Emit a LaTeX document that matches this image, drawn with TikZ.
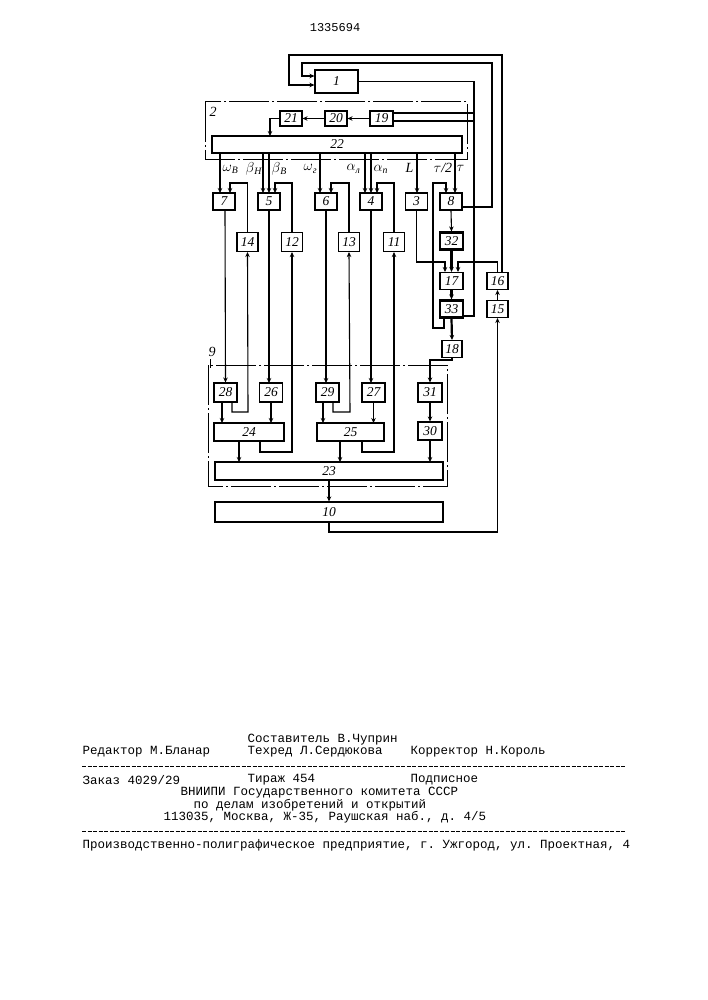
\documentclass[tikz,border=0pt]{standalone}
\usepackage{fontspec}
\setmainfont{Liberation Serif}
\setmonofont{Liberation Mono}
\usetikzlibrary{arrows.meta}
\begin{document}
\begin{tikzpicture}[x=1pt,y=-1pt,line width=1.1pt,
  >={Stealth[length=5pt,width=4.5pt]},
  blk/.style={draw,minimum width=#1,minimum height=17pt,inner sep=0pt,font=\itshape\fontsize{13.5}{13.5}\selectfont},
  blk/.default=22pt,
  tblk/.style={blk=#1,line width=2.2pt},
  tblk/.default=23pt,
  frm/.style={line width=1pt,dash pattern=on 40pt off 3pt on 2pt off 3pt},
  lbl/.style={font=\itshape\fontsize{14}{14}\selectfont,inner sep=0pt},
  txt/.style={font=\ttfamily\fontsize{12.5}{12.5}\selectfont,anchor=west,inner sep=0pt},
  thk/.style={line width=2.2pt}]
\useasboundingbox (0,0) rectangle (707,1000);
\node[font=\ttfamily\fontsize{12}{12}\selectfont] (title) at (335,28) {1335694};
% frames
\draw[frm] (205,102) rectangle (467,160);
\node[lbl] (l2) at (213,112) {2};
\draw[frm] (208,365) rectangle (447,486);
\node[lbl] (l9) at (212,352) {9};
\draw[line width=0.8pt] (210,359) -- (210,368);
% blocks
\node[blk=43pt,minimum height=23pt] (b1) at (336.5,81.5) {1};
\node[blk=23pt,minimum height=15pt] (b19) at (381.5,118.5) {19};
\node[blk,minimum height=15pt] (b20) at (336,118.5) {20};
\node[blk,minimum height=15pt] (b21) at (291,118.5) {21};
\node[blk=250pt] (b22) at (337,144.5) {22};
\node[blk] (b7) at (224,201.5) {7};
\node[blk] (b5) at (269,201.5) {5};
\node[blk] (b6) at (326,201.5) {6};
\node[blk] (b4) at (371,201.5) {4};
\node[blk] (b3) at (416.5,201.5) {3};
\node[blk] (b8) at (451,201.5) {8};
\node[blk=21pt,minimum height=19pt] (b14) at (247.5,242) {14};
\node[blk=21pt,minimum height=19pt] (b12) at (292,242) {12};
\node[blk=21pt,minimum height=19pt] (b13) at (349,242) {13};
\node[blk=21pt,minimum height=19pt] (b11) at (394,242) {11};
\node[tblk] (b32) at (451.5,241) {32};
\node[blk=23pt] (b17) at (451.5,281) {17};
\node[tblk] (b33) at (451.5,309) {33};
\node[blk=20pt] (b18) at (452,349) {18};
\node[blk=21pt] (b16) at (497.5,281) {16};
\node[blk=21pt] (b15) at (497.5,309) {15};
\node[blk=23pt,minimum height=19pt] (b28) at (225.5,392.5) {28};
\node[blk=23pt,minimum height=19pt] (b26) at (271,392.5) {26};
\node[blk=23pt,minimum height=19pt] (b29) at (327.5,392.5) {29};
\node[blk=23pt,minimum height=19pt] (b27) at (373.5,392.5) {27};
\node[blk=24pt,minimum height=19pt] (b31) at (430,392.5) {31};
\node[blk=24pt,minimum height=18pt] (b30) at (430,431) {30};
\node[blk=70pt,minimum height=18pt] (b24) at (249,432) {24};
\node[blk=67pt,minimum height=18pt] (b25) at (350.5,432) {25};
\node[blk=228pt,minimum height=18pt] (b23) at (329,471) {23};
\node[blk=228pt,minimum height=20pt] (b10) at (329,512) {10};
% top loops
\draw[->] (502,272) -- (502,55) -- (289,55) -- (289,85) -- (b1.west |- 0,85);
\draw[->] (b8.east |- 0,207) -- (492,207) -- (492,63) -- (302,63) -- (302,76) -- (b1.west |- 0,76);
\draw (b1.east) -- (474,81.5) -- (474,316) -- (b33.east |- 0,316);
\draw (b19.east |- 0,113) -- (474,113);
\draw (b19.east |- 0,121) -- (474,121);
% inside 2
\draw[->] (b19) -- (b20);
\draw[->] (b20) -- (b21);
\draw[->] (b21.west) -- (270,118.5) -- (270,136);
% 22 outputs
\draw[->] (220,153) -- (220,193);
\draw[->] (263,153) -- (263,193);
\draw[->] (269,153) -- (269,193);
\draw[->] (320,153) -- (320,193);
\draw[->] (365,153) -- (365,193);
\draw[->] (371,153) -- (371,193);
\draw[->] (417,153) -- (417,193);
\draw[->] (455,153) -- (455,193);
\node[lbl,anchor=west] (lw) at (222,169) {$\omega$\textsubscript{\itshape B}};
\node[lbl,anchor=west] (lbh) at (245,169) {$\beta$\textsubscript{\itshape H}};
\node[lbl,anchor=west] (lbb) at (271,169) {$\beta$\textsubscript{\itshape B}};
\node[lbl,anchor=west] (lwg) at (303,169) {$\omega$\textsubscript{\itshape г}};
\node[lbl,anchor=west] (lal) at (346,169) {$\alpha$\textsubscript{\itshape л}};
\node[lbl,anchor=west] (lap) at (373,169) {$\alpha$\textsubscript{\itshape п}};
\node[lbl,anchor=west] (lL) at (405,168) {L};
\node[lbl,anchor=west] (lt2) at (433,168) {$\tau$/2};
\node[lbl,anchor=west] (lt) at (456,168) {$\tau$};
% feedback into 7,5,6,4
\draw[->] (b14.north) -- (247.5,183) -- (230,183) -- (230,193);
\draw[->] (b12.north) -- (292,183) -- (275,183) -- (275,193);
\draw[->] (b13.north) -- (349,183) -- (331,183) -- (331,193);
\draw[->] (b11.north) -- (394,183) -- (377,183) -- (377,193);
% down to 28..
\draw[->] (225,210) -- (b28.north);
\draw[->] (b5.south) -- (269,383);
\draw[->] (b6.south) -- (326,383);
\draw[->] (b4.south) -- (371,383);
\draw[->] (b3.south) -- (416.5,262) -- (445,262) -- (445,272);
% 8 column
\draw[->] (b8.south) -- (b32.north);
\draw[->,thk] (b32.south) -- (b17.north);
\draw[->,thk] (b17.south) -- (b33.north);
\draw[->,thk] (b33.south) -- (b18.north);
\draw[->,thk] (444,318) -- (444,328) -- (433,328) -- (433,183) -- (446,183) -- (446,193);
\draw[->] (b16.north) -- (497.5,262) -- (458,262) -- (458,272);
\draw[->] (b15) -- (b16);
\draw[->] (b18.south) -- (452,360) -- (430,360) -- (b31.north);
% bottom section
\draw[->] (222,402) -- (222,423);
\draw[->] (b26.south) -- (271,423);
\draw[->] (232,402) -- (232,412) -- (248,412) -- (b14.south);
\draw[->] (323,402) -- (323,423);
\draw[->] (333,402) -- (333,412) -- (350,412) -- (b13.south);
\draw[->] (b27.south) -- (373.5,423);
\draw[->] (260,441) -- (260,452) -- (292,452) -- (b12.south);
\draw[->] (362,441) -- (362,452) -- (394,452) -- (b11.south);
\draw[->] (b31) -- (b30);
\draw[->] (239,441) -- (239,462);
\draw[->] (340,441) -- (340,462);
\draw[->] (b30.south) -- (430,462);
\draw[->] (b23.south) -- (b10.north);
\draw[->] (b10.south) -- (329,532) -- (497.5,532) -- (b15.south);
% text
\node[txt] (t1) at (247,740) {Составитель В.Чуприн};
\node[txt] (t2) at (82,752) {Редактор М.Бланар};
\node[txt] (t3) at (247,752) {Техред Л.Сердюкова};
\node[txt] (t4) at (410,752) {Корректор Н.Король};
\draw[line width=0.8pt,dash pattern=on 4pt off 1.5pt] (82,766) -- (625,766);
\node[txt] (t5) at (82,780) {Заказ 4029/29};
\node[txt] (t6) at (247,780) {Тираж 454};
\node[txt] (t7) at (410,780) {Подписное};
\node[txt] (t8) at (180,793) {ВНИИПИ Государственного комитета СССР};
\node[txt] (t9) at (193,805) {по делам изобретений и открытий};
\node[txt] (t10) at (163,817) {113035, Москва, Ж-35, Раушская наб., д. 4/5};
\draw[line width=0.8pt,dash pattern=on 4pt off 1.5pt] (82,831) -- (625,831);
\node[txt] (t11) at (82,845) {Производственно-полиграфическое предприятие, г. Ужгород, ул. Проектная, 4};
\end{tikzpicture}
\end{document}
